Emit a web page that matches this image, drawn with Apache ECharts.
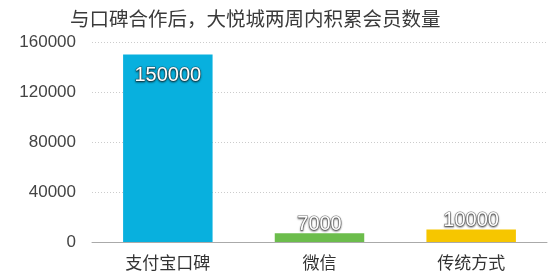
<!DOCTYPE html>
<html><head><meta charset="utf-8">
<script src="https://cdn.jsdelivr.net/npm/echarts@6/dist/echarts.min.js"></script>
<style>html,body{margin:0;padding:0;background:#fff}#c{width:550px;height:279px}</style>
</head><body><div id="c"></div>
<script>
var title = '与口碑合作后，大悦城两周内积累会员数量';
var categories = ['支付宝口碑', '微信', '传统方式'];
var values = [150000, 7000, 10000];
var colors = ['#08b0de', '#6cbd4c', '#f6c600'];
var yTicks = [0, 40000, 80000, 120000, 160000];

var chart = echarts.init(document.getElementById('c'), null, {renderer: 'canvas'});
var font = '"Liberation Sans", Arial, "Noto Sans CJK SC", sans-serif';
chart.setOption({
  animation: false,
  title: {text: title, left: 65, top: 6, textStyle: {fontFamily: font, fontSize: 19.5, fontWeight: 'normal', color: '#3a3a3a'}},
  grid: {left: 92, right: 3, top: 42, bottom: 37},
  xAxis: {
    type: 'category', data: categories,
    axisLine: {lineStyle: {color: '#aaaaaa', width: 1}},
    axisTick: {show: false},
    axisLabel: {fontFamily: font, fontSize: 17, color: '#333', margin: 14}
  },
  yAxis: {
    type: 'value', min: yTicks[0], max: yTicks[yTicks.length - 1], interval: 40000,
    axisLine: {show: false}, axisTick: {show: false},
    axisLabel: {fontFamily: font, fontSize: 17, color: '#444', margin: 16, formatter: function (v) { return String(v); }},
    splitLine: {lineStyle: {color: '#cccccc', type: [1, 2], width: 1}}
  },
  series: [{
    type: 'bar', barWidth: '59%',
    data: values.map(function (v, i) {
      return {
        value: v, itemStyle: {color: colors[i]},
        label: i === 0 ? {position: 'insideTop', distance: 11} : {position: 'top', distance: -1}
      };
    }),
    label: {
      show: true, fontFamily: font, fontSize: 20, color: '#fff',
      textBorderColor: 'rgba(60,60,60,0.6)', textBorderWidth: 1.2,
      textShadowColor: 'rgba(0,0,0,0.6)', textShadowBlur: 2, textShadowOffsetY: 1
    }
  }]
});
</script></body></html>
